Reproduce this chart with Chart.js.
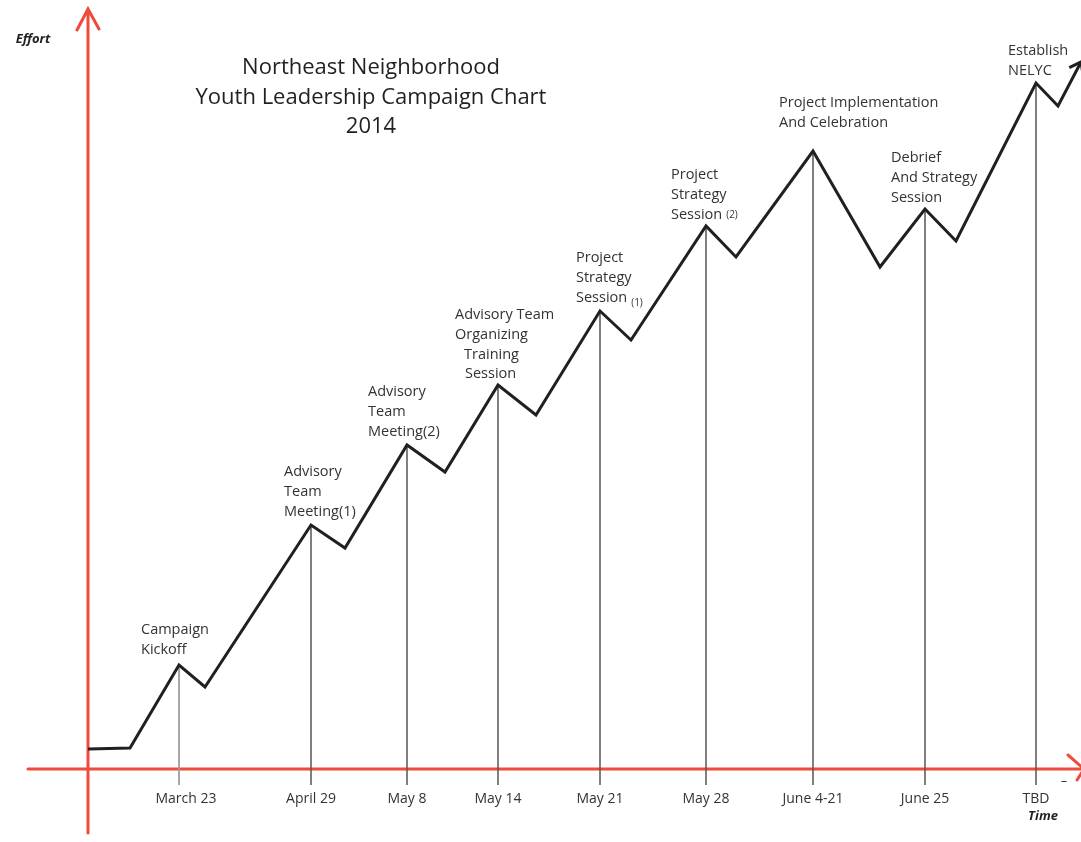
<!DOCTYPE html>
<html>
<head>
<meta charset="utf-8">
<script src="https://cdn.jsdelivr.net/npm/chart.js@4/dist/chart.umd.min.js"></script>
<style>
  html, body { margin: 0; padding: 0; background: #fff; }
  #wrap { width: 1081px; height: 842px; position: relative; }
</style>
</head>
<body>
<div id="wrap"><canvas id="campaignChart"></canvas></div>
<script>
// time runs left to right, effort bottom to top (units)
const pathTime   = [0, 42, 91, 117, 223, 257, 319, 357, 410, 448, 512, 543, 618, 648, 725, 792, 837, 868, 948, 970, 993];
const pathEffort = [20, 21, 104, 82, 244, 221, 324, 297, 384, 354, 458, 429, 543, 512, 618, 502, 560, 528, 686, 663, 707];

const milestoneLabels = ['March 23', 'April 29', 'May 8', 'May 14', 'May 21', 'May 28', 'June 4-21', 'June 25', 'TBD'];
const milestoneTime   = [91, 223, 319, 410, 512, 618, 725, 837, 948];
const milestoneEffort = [104, 244, 324, 384, 458, 543, 618, 560, 686];
const milestoneNotes = [
  ['Campaign', 'Kickoff'],
  ['Advisory', 'Team', 'Meeting(1)'],
  ['Advisory', 'Team', 'Meeting(2)'],
  ['Advisory Team', 'Organizing', 'Training', 'Session'],
  ['Project', 'Strategy', 'Session'],
  ['Project', 'Strategy', 'Session'],
  ['Project Implementation', 'And Celebration'],
  ['Debrief', 'And Strategy', 'Session'],
  ['Establish', 'NELYC']
];
const noteSuffix = ['', '', '', '', '(1)', '(2)', '', '', ''];

const titleLines = ['Northeast Neighborhood', 'Youth Leadership Campaign Chart', '2014'];

// layout of the notes relative to each peak (pixels)
const noteOffset = [[-38, -35], [-27, -53], [-39, -53], [-43, -70], [-24, -53], [-35, -51], [-34, -48], [-34, -51], [-28, -32]];
const noteIndent = { 3: [0, 0, 9, 10] };

const RED = '#ef4b3c';
const INK = '#231f20';
const TEXT = '#333333';
const FONT = '"Open Sans", "Noto Sans", sans-serif';

const dropSets = milestoneTime.map((t, i) => ({
  data: [{ x: t, y: milestoneEffort[i] }, { x: t, y: -16 }],
  borderColor: i === 0 ? '#9a9a9a' : '#555555',
  borderWidth: i === 0 ? 1 : 1.5,
  pointRadius: 0,
  clip: false,
  order: 2
}));

const decor = {
  id: 'decor',
  beforeDatasetsDraw(chart) {
    const { ctx, scales: { x, y } } = chart;
    const x0 = x.getPixelForValue(0);
    const y0 = y.getPixelForValue(0);
    ctx.save();
    ctx.strokeStyle = RED;
    ctx.lineWidth = 3;
    ctx.lineCap = 'round';
    ctx.beginPath();
    // y axis + arrow
    ctx.moveTo(x0, 833); ctx.lineTo(x0, 9);
    ctx.moveTo(x0 - 11, 30); ctx.lineTo(x0, 9); ctx.lineTo(x0 + 11, 29);
    // x axis + arrow
    ctx.moveTo(28, y0); ctx.lineTo(1084, y0);
    ctx.moveTo(1068, y0 - 14); ctx.lineTo(1084, y0); ctx.lineTo(1077, y0 + 11);
    ctx.stroke();
    ctx.restore();
  },
  afterDatasetsDraw(chart) {
    const { ctx, scales: { x, y } } = chart;
    ctx.save();
    // arrowhead at end of effort line
    const n = pathTime.length;
    const ex = x.getPixelForValue(pathTime[n - 1]), ey = y.getPixelForValue(pathEffort[n - 1]);
    const px = x.getPixelForValue(pathTime[n - 2]), py = y.getPixelForValue(pathEffort[n - 2]);
    const ang = Math.atan2(ey - py, ex - px);
    ctx.strokeStyle = INK;
    ctx.lineWidth = 3;
    ctx.lineJoin = 'miter';
    ctx.beginPath();
    ctx.moveTo(ex + 13 * Math.cos(ang + 2.5), ey + 13 * Math.sin(ang + 2.5));
    ctx.lineTo(ex, ey);
    ctx.lineTo(ex + 13 * Math.cos(ang - 2.5), ey + 13 * Math.sin(ang - 2.5));
    ctx.stroke();

    // title
    ctx.fillStyle = INK;
    ctx.font = '22px ' + FONT;
    ctx.textAlign = 'center';
    ctx.textBaseline = 'middle';
    titleLines.forEach((t, i) => ctx.fillText(t, 371, 68 + i * 29.5));

    // milestone tick labels
    ctx.fillStyle = TEXT;
    ctx.font = '14px ' + FONT;
    milestoneLabels.forEach((t, i) => {
      ctx.fillText(t, x.getPixelForValue(milestoneTime[i]) + (i === 0 ? 7 : 0), y.getPixelForValue(0) + 30);
    });

    // notes above peaks
    ctx.textAlign = 'left';
    milestoneNotes.forEach((lines, i) => {
      const bx = x.getPixelForValue(milestoneTime[i]) + noteOffset[i][0];
      const by = y.getPixelForValue(milestoneEffort[i]) + noteOffset[i][1];
      ctx.font = '14.5px ' + FONT;
      lines.forEach((t, j) => {
        const ind = noteIndent[i] ? noteIndent[i][j] : 0;
        ctx.fillText(t, bx + ind, by + j * 19.7);
      });
      if (noteSuffix[i]) {
        const lastW = ctx.measureText(lines[lines.length - 1]).width;
        ctx.font = '10px ' + FONT;
        const dy = i === 4 ? 6 : 1;
        ctx.fillText(noteSuffix[i], bx + lastW + 4, by + (lines.length - 1) * 19.7 + dy);
      }
    });

    // axis names
    ctx.fillStyle = INK;
    ctx.font = 'italic bold 13px ' + FONT;
    ctx.textAlign = 'center';
    ctx.fillText('Effort', 33, 39);
    ctx.fillText('Time', 1043, 816);
    ctx.font = '12px ' + FONT;
    ctx.fillText('–', 1064, 782);
    ctx.restore();
  }
};

new Chart(document.getElementById('campaignChart'), {
  type: 'line',
  data: {
    datasets: [{
      data: pathTime.map((t, i) => ({ x: t, y: pathEffort[i] })),
      borderColor: INK,
      borderWidth: 3,
      borderJoinStyle: 'miter',
      pointRadius: 0,
      tension: 0,
      clip: false,
      order: 1
    }].concat(dropSets)
  },
  options: {
    responsive: true,
    maintainAspectRatio: false,
    animation: false,
    layout: { padding: { left: 88, right: 0, top: 0, bottom: 73 } },
    plugins: { legend: { display: false }, tooltip: { enabled: false } },
    scales: {
      x: { type: 'linear', min: 0, max: 993, display: false },
      y: { type: 'linear', min: 0, max: 769, display: false }
    }
  },
  plugins: [decor]
});
</script>
</body>
</html>
